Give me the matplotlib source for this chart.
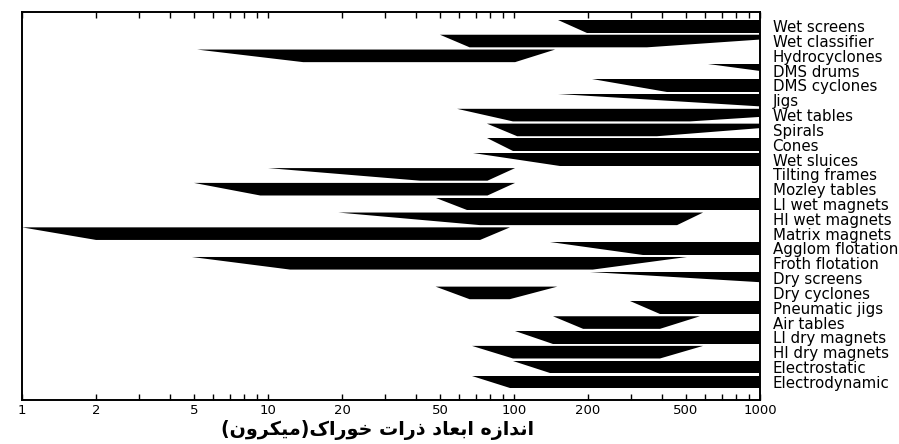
import numpy as np
import matplotlib
matplotlib.use("Agg")
import matplotlib.pyplot as plt
from matplotlib.ticker import FixedLocator, NullFormatter

# separation methods and their size ranges (microns)
categories = ["Wet screens", "Wet classifier", "Hydrocyclones", "DMS drums",
              "DMS cyclones", "Jigs", "Wet tables", "Spirals", "Cones",
              "Wet sluices", "Tilting frames", "Mozley tables", "LI wet magnets",
              "HI wet magnets", "Matrix magnets", "Agglom flotation",
              "Froth flotation", "Dry screens", "Dry cyclones", "Pneumatic jigs",
              "Air tables", "LI dry magnets", "HI dry magnets", "Electrostatic",
              "Electrodynamic"]

# left tip, start of full width, end of full width, right tip
tip_left = [151, 50, 5.15, 615, 208, 151, 58.7, 77.6, 77.6, 68, 10, 5.0, 48,
            19.3, 1.0, 140, 4.9, 204, 48, 296, 144, 101, 67.5, 99, 67.5]
full_left = [198, 66, 13.9, 1524, 419, 1098, 99, 103, 99, 154, 41.5, 9.3, 64.4,
             72.8, 2.0, 334, 12.3, 1324, 66, 392, 191, 144, 99, 140, 96]
full_right = [2000, 347, 101, 2000, 2000, 2000, 519, 381, 2000, 2000, 78, 78, 2000,
              460, 72.8, 2000, 209, 2000, 96, 2000, 392, 2000, 392, 2000, 2000]
tip_right = [2000, 1927, 147, 2000, 2000, 2000, 3252, 1706, 2000, 2000, 101, 101, 2000,
             587, 96.3, 2000, 505, 2000, 150, 2000, 570, 2000, 587, 2000, 2000]

tick_vals = [1, 2, 5, 10, 20, 50, 100, 200, 500, 1000]
xlabel_fa = "اندازه ابعاد ذرات خوراک(میکرون)"

# matplotlib has no arabic shaping, do it by hand with presentation forms
FORMS = {
    'ا': ('\uFE8D', '\uFE8E'),
    'د': ('\uFEA9', '\uFEAA'),
    'ذ': ('\uFEAB', '\uFEAC'),
    'ر': ('\uFEAD', '\uFEAE'),
    'ز': ('\uFEAF', '\uFEB0'),
    'و': ('\uFEED', '\uFEEE'),
    'ب': ('\uFE8F', '\uFE90', '\uFE91', '\uFE92'),
    'ت': ('\uFE95', '\uFE96', '\uFE97', '\uFE98'),
    'خ': ('\uFEA5', '\uFEA6', '\uFEA7', '\uFEA8'),
    'ع': ('\uFEC9', '\uFECA', '\uFECB', '\uFECC'),
    'م': ('\uFEE1', '\uFEE2', '\uFEE3', '\uFEE4'),
    'ن': ('\uFEE5', '\uFEE6', '\uFEE7', '\uFEE8'),
    'ه': ('\uFEE9', '\uFEEA', '\uFEEB', '\uFEEC'),
    'ک': ('\uFB8E', '\uFB8F', '\uFB90', '\uFB91'),
    'ی': ('\uFBFC', '\uFBFD', '\uFBFE', '\uFBFF'),
}


def shape_rtl(s):
    out = []
    for i, ch in enumerate(s):
        if ch not in FORMS:
            out.append(ch)
            continue
        f = FORMS[ch]
        prev = s[i - 1] if i > 0 else ''
        nxt = s[i + 1] if i + 1 < len(s) else ''
        jp = prev in FORMS and len(FORMS[prev]) == 4
        jn = len(f) == 4 and nxt in FORMS
        if jp and jn:
            out.append(f[3])
        elif jp:
            out.append(f[1])
        elif jn:
            out.append(f[2])
        else:
            out.append(f[0])
    vis = ''.join(reversed(out))
    return vis.translate(str.maketrans('()', ')('))


fig = plt.figure(figsize=(8.99, 4.44), dpi=100)
ax = fig.add_axes([0.0245, 0.099, 0.8209, 0.874])

h = 0.85
for i in range(len(categories)):
    xs = [tip_left[i], tip_right[i], full_right[i], full_left[i]]
    ys = [i - h / 2, i - h / 2, i + h / 2, i + h / 2]
    ax.fill(xs, ys, color="black", lw=0)

ax.set_xscale("log")
ax.set_xlim(1, 1000)
ax.set_ylim(len(categories) - 1 + 1.23, -0.96)

ax.xaxis.set_major_locator(FixedLocator(tick_vals))
ax.set_xticklabels([str(v) for v in tick_vals], fontsize=9.5)
minor = [m * 10 ** k for k in range(3) for m in range(2, 10)]
ax.xaxis.set_minor_locator(FixedLocator(minor))
ax.xaxis.set_minor_formatter(NullFormatter())
ax.tick_params(axis="x", which="both", direction="in", top=True, length=4,
               width=1, pad=3)

ax.yaxis.tick_right()
ax.set_yticks(range(len(categories)))
ax.set_yticklabels(categories, fontsize=10.8)
ax.tick_params(axis="y", length=0, pad=9)

for sp in ax.spines.values():
    sp.set_linewidth(1.4)

ax.set_xlabel(shape_rtl(xlabel_fa), fontsize=13.8, fontweight="bold",
              family="DejaVu Sans")
ax.xaxis.set_label_coords(0.482, -0.052)

fig.savefig("out.png", dpi=100)
